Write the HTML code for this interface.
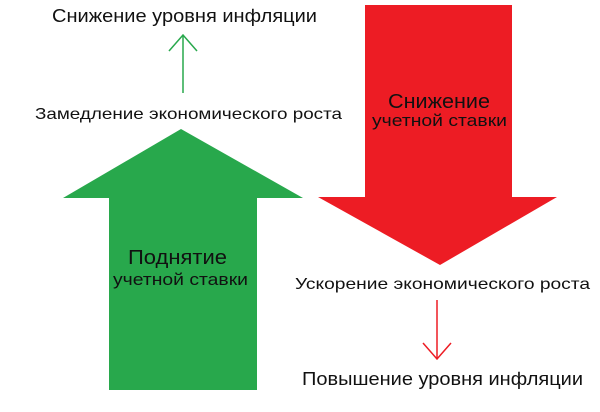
<!DOCTYPE html>
<html><head><meta charset="utf-8"><style>
html,body{margin:0;padding:0;background:#fff;}
svg{display:block;}
text{font-family:"Liberation Sans","DejaVu Sans",sans-serif;fill:#111;}
</style></head><body>
<svg width="600" height="412" viewBox="0 0 600 412" xmlns="http://www.w3.org/2000/svg">
<polygon points="109,390 257,390 257,198 303,198 181,129 63,198 109,198" fill="#28a84c"/>
<polygon points="365,5 512,5 512,197 557,197 440,265 318,197 365,197" fill="#ed1c24"/>
<line x1="183" y1="93" x2="183" y2="36" stroke="#28a84c" stroke-width="1.5"/>
<polyline points="169,51 183,35 197,51" fill="none" stroke="#28a84c" stroke-width="1.5"/>
<line x1="437" y1="300" x2="437" y2="358" stroke="#ed1c24" stroke-width="1.5"/>
<polyline points="423,343 437,359 451,343" fill="none" stroke="#ed1c24" stroke-width="1.5"/>
<text x="52" y="22" font-size="18" textLength="265" lengthAdjust="spacingAndGlyphs">Снижение уровня инфляции</text>
<text x="35" y="119" font-size="16" textLength="307" lengthAdjust="spacingAndGlyphs">Замедление экономического роста</text>
<text x="388" y="108" font-size="20" textLength="102" lengthAdjust="spacingAndGlyphs">Снижение</text>
<text x="372" y="126" font-size="17" textLength="135" lengthAdjust="spacingAndGlyphs">учетной ставки</text>
<text x="128" y="264" font-size="20" textLength="99" lengthAdjust="spacingAndGlyphs">Поднятие</text>
<text x="113" y="285" font-size="17" textLength="135" lengthAdjust="spacingAndGlyphs">учетной ставки</text>
<text x="295" y="289" font-size="16" textLength="295" lengthAdjust="spacingAndGlyphs">Ускорение экономического роста</text>
<text x="302" y="385" font-size="18" textLength="281" lengthAdjust="spacingAndGlyphs">Повышение уровня инфляции</text>
</svg>
</body></html>
